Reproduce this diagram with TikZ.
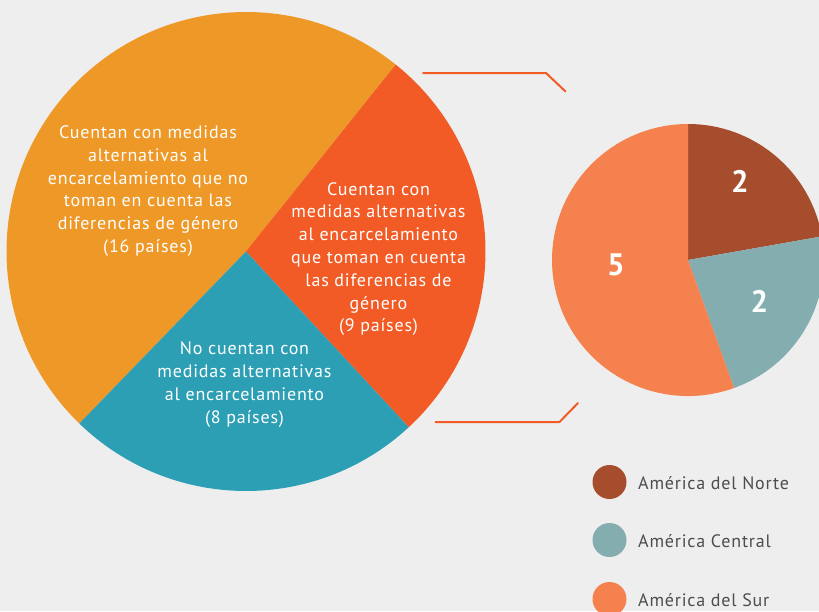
\documentclass[tikz,border=0pt]{standalone}
\usepackage{fontspec}
\setmainfont{PT Sans}[LetterSpace=4.5]
\newfontfamily\numfont{PT Sans}
\definecolor{bgc}{HTML}{EEEEEE}
\definecolor{ora}{HTML}{EE9828}
\definecolor{redo}{HTML}{F25B25}
\definecolor{teal2}{HTML}{2C9FB5}
\definecolor{brown2}{HTML}{A64D2D}
\definecolor{grey2}{HTML}{83ADAF}
\definecolor{salm}{HTML}{F5814F}
\definecolor{legt}{HTML}{4D4D4D}
\tikzset{
  x=1pt,y=-1pt,
  big/.style={text=white,align=center,font=\fontsize{18}{22.8}\selectfont,inner sep=0pt},
  num/.style={text=white,font=\fontsize{31}{32}\selectfont\numfont\bfseries,inner sep=0pt},
  legd/.style={circle,minimum size=34pt,inner sep=0pt},
  legl/.style={text=legt,anchor=west,font=\fontsize{18}{20}\selectfont,inner sep=0pt},
  brk/.style={draw=redo,line width=2pt,line cap=round,line join=round}
}
\begin{document}
\begin{tikzpicture}
\useasboundingbox (0,0) rectangle (819,611);
\clip (0,0) rectangle (819,611);
\fill[bgc] (0,0) rectangle (819,611);
% big pie (centre 246,251.5 r 239.5); y axis is flipped so angles are negated
\coordinate (c1) at (246,251.5);
\fill[ora] (c1) -- ++(-51.3:239.5) arc[start angle=-51.3,end angle=-225.9,radius=239.5] -- cycle;
\fill[redo] (c1) -- ++(-51.3:239.5) arc[start angle=-51.3,end angle=47.2,radius=239.5] -- cycle;
\fill[teal2] (c1) -- ++(47.2:239.5) arc[start angle=47.2,end angle=134.1,radius=239.5] -- cycle;
% small pie
\coordinate (c2) at (688,260);
\fill[brown2] (c2) -- ++(-90:136) arc[start angle=-90,end angle=-10,radius=136] -- cycle;
\fill[grey2] (c2) -- ++(-10:136) arc[start angle=-10,end angle=70.2,radius=136] -- cycle;
\fill[salm] (c2) -- ++(70.2:136) arc[start angle=70.2,end angle=270,radius=136] -- cycle;
% brackets
\coordinate (b1a) at (423,73);
\coordinate (b1b) at (546,73);
\coordinate (b1c) at (565.5,91.5);
\coordinate (b2a) at (435.5,422);
\coordinate (b2b) at (559.5,422);
\coordinate (b2c) at (578,403);
\draw[brk] (b1a) -- (b1b) -- (b1c);
\draw[brk] (b2a) -- (b2b) -- (b2c);
% labels
\node[big] (t1) at (148,191) {Cuentan con medidas\\alternativas al\\encarcelamiento que no\\toman en cuenta las\\diferencias de género\\(16 países)};
\node[big] (t2) at (378.5,259) {Cuentan con\\medidas alternativas\\al encarcelamiento\\que toman en cuenta\\las diferencias de\\género\\(9 países)};
\node[big] (t3) at (244.5,384.5) {No cuentan con\\medidas alternativas\\al encarcelamiento\\(8 países)};
\node[num] (n1) at (740,181) {2};
\node[num] (n2) at (759.5,301) {2};
\node[num] (n3) at (616,265) {5};
% legend
\node[legd,fill=brown2] (d1) at (609.5,482) {};
\node[legd,fill=grey2] (d2) at (609.5,540) {};
\node[legd,fill=salm] (d3) at (609.5,599) {};
\node[legl] (l1) at (638,483.5) {América del Norte};
\node[legl] (l2) at (638,541.5) {América Central};
\node[legl] (l3) at (638,600.5) {América del Sur};
\end{tikzpicture}
\end{document}
